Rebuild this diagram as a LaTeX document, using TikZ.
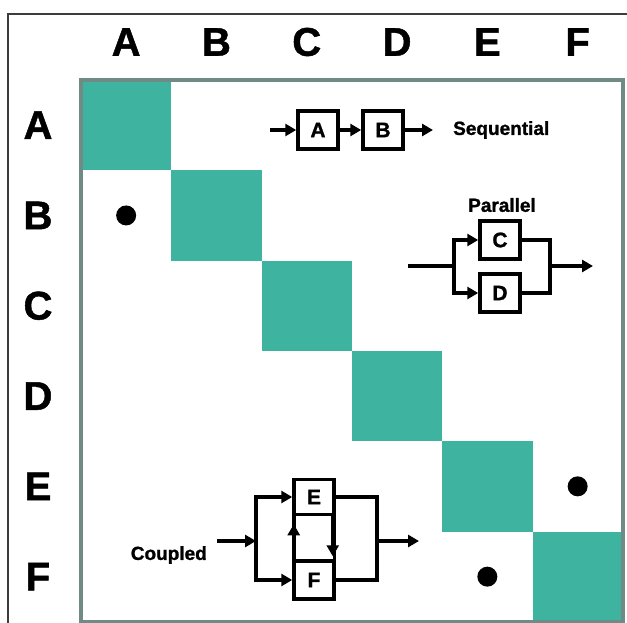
\documentclass[tikz,border=0pt]{standalone}
\usepackage{fontspec}
\setmainfont{Liberation Sans}
\newfontfamily\heavy[FakeBold=1.2]{Liberation Sans Bold}
\usetikzlibrary{arrows.meta,calc}
\definecolor{cellgreen}{RGB}{62,180,160}
\definecolor{rimgray}{RGB}{112,138,134}
\definecolor{framegray}{RGB}{60,60,60}
\tikzset{
  cell/.style={fill=cellgreen},
  blk/.style={draw, line width=3.5pt, minimum width=40pt, minimum height=38pt,
    inner sep=0pt, font=\heavy\fontsize{21}{21}\selectfont},
  wire/.style={line width=3.5pt},
  arr/.style={wire, -{Triangle[length=11pt,width=12pt]}},
  axislabel/.style={font=\heavy\fontsize{40}{40}\selectfont},
  caption/.style={font=\heavy\fontsize{19}{19}\selectfont, inner sep=0pt},
  dot/.style={circle, fill=black, minimum size=20pt, inner sep=0pt},
}
\begin{document}
\begin{tikzpicture}[x=1pt,y=-1pt]
\useasboundingbox (0,0) rectangle (627,623);
\fill[white] (0,0) rectangle (627,623);

% outer frame (top and left edges)
\draw[framegray, line width=1.5pt] (8,623) -- (8,14) -- (627,14);

% design structure matrix
\def\cs{90.3}
\foreach \i in {0,...,5} {
  \fill[cellgreen] ({81+\i*\cs},{80+\i*\cs}) rectangle ++(\cs,\cs);
}
\draw[rimgray, line width=3.5pt] (81,80) rectangle ({81+6*\cs},{80+6*\cs});

% column and row headings
\foreach \l [count=\i from 0] in {A,B,C,D,E,F} {
  \node[axislabel] (col\l) at ({81+(\i+0.5)*\cs},42) {\l};
  \node[axislabel] (row\l) at (38,{80+(\i+0.5)*\cs}) {\l};
}

% off-diagonal marks
\node[dot] (mBA) at ({81+0.5*\cs},{80+1.5*\cs}) {};
\node[dot] (mEF) at ({81+5.5*\cs},{80+4.5*\cs}) {};
\node[dot] (mFE) at ({81+4.5*\cs},{80+5.5*\cs}) {};

% sequential
\coordinate (sin) at (270,130);
\node[blk] (sA) at (318,130) {A};
\node[blk] (sB) at (383,130) {B};
\coordinate (sout) at (433,130);
\draw[arr] (sin) -- (sA);
\draw[arr] (sA) -- (sB);
\draw[arr] (sB) -- (sout);
\node[caption, anchor=west] (seq) at (453,130) {Sequential};

% parallel
\node[caption] (par) at (502,205) {Parallel};
\node[blk] (pC) at (500,240) {C};
\node[blk] (pD) at (500,293) {D};
\coordinate (pin) at (408,266);
\coordinate (psplit) at (454,266);
\coordinate (pmerge) at (550,266);
\coordinate (pout) at (593,266);
\draw[wire] (pin) -- (psplit);
\draw[arr] (psplit) |- (pC);
\draw[arr] (psplit) |- (pD);
\draw[wire] (pC) -| (pmerge);
\draw[wire] (pD) -| (pmerge);
\draw[arr] (pmerge) -- (pout);

% coupled
\node[caption, anchor=east] (cpl) at (207,555) {Coupled};
\node[blk, minimum height=35pt] (cE) at (314,497) {E};
\node[blk, minimum height=38pt] (cF) at (314,580) {F};
\coordinate (cin) at (217,541);
\coordinate (csplit) at (256,541);
\coordinate (cmerge) at (377,541);
\coordinate (cout) at (419,541);
\draw[arr] (cin) -- (csplit);
\draw[arr] (csplit) |- (cE);
\draw[arr] (csplit) |- (cF);
\draw[wire] (cE) -| (cmerge);
\draw[wire] (cF) -| (cmerge);
\draw[arr] (cmerge) -- (cout);
% feedback loop between E and F
\draw[wire] ($(cE.south west)+(1.5,0)$) -- ($(cF.north west)+(1.5,0)$);
\draw[wire] ($(cE.south east)+(-1.5,0)$) -- ($(cF.north east)+(-1.5,0)$);
\draw[arr] ($(cF.north west)+(1.5,0)$) -- ($(cE.south west)+(1.5,8)$);
\draw[arr] ($(cE.south east)+(-3,0)$) -- ($(cF.north east)+(-3,-3)$);
\end{tikzpicture}
\end{document}
